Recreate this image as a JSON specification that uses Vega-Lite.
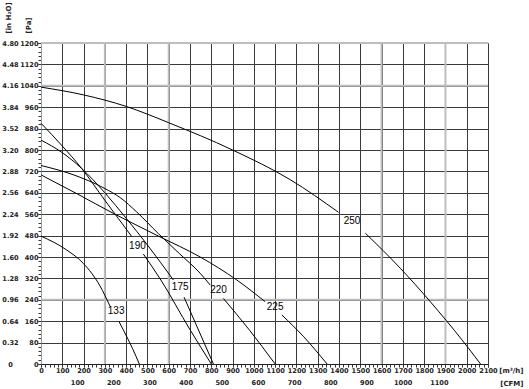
{
  "$schema": "https://vega.github.io/schema/vega-lite/v6.json",
  "width": 447,
  "height": 321,
  "autosize": {"type": "none"},
  "padding": {"left": 41, "top": 43, "right": 41, "bottom": 25},
  "background": "white",
  "config": {
    "view": {"stroke": null},
    "axis": {
      "labelFont": "DejaVu Sans",
      "labelFontWeight": "bold",
      "labelFontSize": 6.6,
      "labelColor": "#222",
      "labelOverlap": false,
      "labelFlush": false,
      "titleFont": "DejaVu Sans",
      "titleFontWeight": "bold",
      "titleFontSize": 7,
      "titleColor": "#222",
      "gridColor": "#3a3a3a",
      "gridOpacity": 1,
      "gridWidth": 1,
      "tickColor": "#333",
      "domainColor": "#222"
    }
  },
  "datasets": {
    "curves": [
      {"fan": "133", "seg": "133a", "q": 0, "p": 478},
      {"fan": "133", "seg": "133a", "q": 121, "p": 426},
      {"fan": "133", "seg": "133a", "q": 199, "p": 376},
      {"fan": "133", "seg": "133a", "q": 277, "p": 292},
      {"fan": "133", "seg": "133a", "q": 325, "p": 215},
      {"fan": "133", "seg": "133b", "q": 367, "p": 158},
      {"fan": "133", "seg": "133b", "q": 387, "p": 127},
      {"fan": "133", "seg": "133b", "q": 430, "p": 58},
      {"fan": "133", "seg": "133b", "q": 462, "p": 0},
      {"fan": "190", "seg": "190a", "q": 0, "p": 900},
      {"fan": "190", "seg": "190a", "q": 100, "p": 815},
      {"fan": "190", "seg": "190a", "q": 191, "p": 731},
      {"fan": "190", "seg": "190a", "q": 300, "p": 612},
      {"fan": "190", "seg": "190a", "q": 427, "p": 476},
      {"fan": "190", "seg": "190b", "q": 481, "p": 411},
      {"fan": "190", "seg": "190b", "q": 560, "p": 318},
      {"fan": "190", "seg": "190b", "q": 701, "p": 127},
      {"fan": "190", "seg": "190b", "q": 800, "p": 0},
      {"fan": "175", "seg": "175a", "q": 0, "p": 837},
      {"fan": "175", "seg": "175a", "q": 100, "p": 790},
      {"fan": "175", "seg": "175a", "q": 191, "p": 731},
      {"fan": "175", "seg": "175a", "q": 300, "p": 640},
      {"fan": "175", "seg": "175a", "q": 400, "p": 545},
      {"fan": "175", "seg": "175a", "q": 500, "p": 445},
      {"fan": "175", "seg": "175a", "q": 622, "p": 314},
      {"fan": "175", "seg": "175b", "q": 672, "p": 250},
      {"fan": "175", "seg": "175b", "q": 740, "p": 127},
      {"fan": "175", "seg": "175b", "q": 810, "p": 0},
      {"fan": "220", "seg": "220a", "q": 0, "p": 742},
      {"fan": "220", "seg": "220a", "q": 150, "p": 708},
      {"fan": "220", "seg": "220a", "q": 300, "p": 656},
      {"fan": "220", "seg": "220a", "q": 372, "p": 622},
      {"fan": "220", "seg": "220a", "q": 450, "p": 568},
      {"fan": "220", "seg": "220a", "q": 552, "p": 487},
      {"fan": "220", "seg": "220a", "q": 650, "p": 413},
      {"fan": "220", "seg": "220a", "q": 748, "p": 339},
      {"fan": "220", "seg": "220a", "q": 795, "p": 295},
      {"fan": "220", "seg": "220b", "q": 857, "p": 245},
      {"fan": "220", "seg": "220b", "q": 980, "p": 126},
      {"fan": "220", "seg": "220b", "q": 1100, "p": 0},
      {"fan": "225", "seg": "225a", "q": 0, "p": 707},
      {"fan": "225", "seg": "225a", "q": 170, "p": 636},
      {"fan": "225", "seg": "225a", "q": 340, "p": 563},
      {"fan": "225", "seg": "225a", "q": 552, "p": 478},
      {"fan": "225", "seg": "225a", "q": 748, "p": 400},
      {"fan": "225", "seg": "225a", "q": 920, "p": 314},
      {"fan": "225", "seg": "225a", "q": 1053, "p": 233},
      {"fan": "225", "seg": "225b", "q": 1132, "p": 183},
      {"fan": "225", "seg": "225b", "q": 1234, "p": 102},
      {"fan": "225", "seg": "225b", "q": 1344, "p": 0},
      {"fan": "250", "seg": "250a", "q": 0, "p": 1035},
      {"fan": "250", "seg": "250a", "q": 200, "p": 1006},
      {"fan": "250", "seg": "250a", "q": 400, "p": 963},
      {"fan": "250", "seg": "250a", "q": 600, "p": 902},
      {"fan": "250", "seg": "250a", "q": 900, "p": 800},
      {"fan": "250", "seg": "250a", "q": 1171, "p": 689},
      {"fan": "250", "seg": "250a", "q": 1398, "p": 567},
      {"fan": "250", "seg": "250b", "q": 1524, "p": 489},
      {"fan": "250", "seg": "250b", "q": 1688, "p": 358},
      {"fan": "250", "seg": "250b", "q": 1830, "p": 232},
      {"fan": "250", "seg": "250b", "q": 1978, "p": 90},
      {"fan": "250", "seg": "250b", "q": 2065, "p": 0}
    ],
    "labels": [
      {"fan": "133", "q": 353, "p": 198},
      {"fan": "190", "q": 453, "p": 441},
      {"fan": "175", "q": 654, "p": 288},
      {"fan": "220", "q": 834, "p": 277},
      {"fan": "225", "q": 1100, "p": 212},
      {"fan": "250", "q": 1461, "p": 536}
    ],
    "vlines": [{"q": 300}, {"q": 600}, {"q": 1600}, {"q": 1900}],
    "hlines": [{"p": 1200}, {"p": 1040}, {"p": 240}]
  },
  "resolve": {"axis": {"x": "independent", "y": "independent"}},
  "layer": [
    {
      "data": {"name": "vlines"},
      "mark": {"type": "rule", "color": "#bdbdbd", "strokeWidth": 2},
      "encoding": {
        "x": {
          "field": "q", "type": "quantitative",
          "scale": {"domain": [0, 2100], "nice": false, "zero": false},
          "axis": {
            "orient": "bottom", "title": null, "labels": false, "grid": false, "domain": false,
            "ticks": true, "tickSize": 3,
            "values": [0,20,40,60,80,100,120,140,160,180,200,220,240,260,280,300,320,340,360,380,400,420,440,460,480,500,520,540,560,580,600,620,640,660,680,700,720,740,760,780,800,820,840,860,880,900,920,940,960,980,1000,1020,1040,1060,1080,1100,1120,1140,1160,1180,1200,1220,1240,1260,1280,1300,1320,1340,1360,1380,1400,1420,1440,1460,1480,1500,1520,1540,1560,1580,1600,1620,1640,1660,1680,1700,1720,1740,1760,1780,1800,1820,1840,1860,1880,1900,1920,1940,1960,1980,2000,2020,2040,2060,2080,2100]
          }
        }
      }
    },
    {
      "data": {"name": "hlines"},
      "mark": {"type": "rule", "color": "#bdbdbd", "strokeWidth": 2},
      "encoding": {
        "y": {
          "field": "p", "type": "quantitative",
          "scale": {"domain": [0, 1200], "nice": false, "zero": false},
          "axis": {
            "orient": "left", "title": null, "labels": false, "grid": false,
            "domain": true, "domainColor": "#9a9a9a",
            "ticks": true, "tickSize": 3,
            "values": [0,16,32,48,64,80,96,112,128,144,160,176,192,208,224,240,256,272,288,304,320,336,352,368,384,400,416,432,448,464,480,496,512,528,544,560,576,592,608,624,640,656,672,688,704,720,736,752,768,784,800,816,832,848,864,880,896,912,928,944,960,976,992,1008,1024,1040,1056,1072,1088,1104,1120,1136,1152,1168,1184,1200]
          }
        }
      }
    },
    {
      "data": {"name": "curves"},
      "mark": {"type": "line", "interpolate": "monotone", "color": "black", "strokeWidth": 1},
      "encoding": {
        "x": {
          "field": "q", "type": "quantitative",
          "scale": {"domain": [0, 2100], "nice": false, "zero": false},
          "axis": {
            "orient": "bottom", "title": "[m³/h]", "grid": true, "domain": true,
            "ticks": true, "tickSize": 3, "labelPadding": 0, "format": "d",
            "values": [0,100,200,300,400,500,600,700,800,900,1000,1100,1200,1300,1400,1500,1600,1700,1800,1900,2000,2100],
            "titleX": 482, "titleY": 6, "titleAlign": "right", "titleBaseline": "middle", "titleAngle": 0
          }
        },
        "y": {
          "field": "p", "type": "quantitative",
          "scale": {"domain": [0, 1200], "nice": false, "zero": false},
          "axis": {
            "orient": "left", "title": "[Pa]", "grid": true, "domain": false,
            "ticks": true, "tickSize": 3, "labelPadding": 0, "format": "d",
            "values": [0,80,160,240,320,400,480,560,640,720,800,880,960,1040,1120,1200],
            "titleX": -13, "titleY": -10, "titleAlign": "left", "titleBaseline": "middle", "titleAngle": -90
          }
        },
        "detail": {"field": "seg"}
      }
    },
    {
      "data": {"name": "labels"},
      "mark": {"type": "text", "font": "Liberation Sans", "fontSize": 10, "color": "black", "align": "center", "baseline": "middle"},
      "encoding": {
        "x": {
          "field": "q", "type": "quantitative",
          "scale": {"domain": [0, 2100], "nice": false, "zero": false},
          "axis": {
            "orient": "bottom", "title": "[CFM]", "grid": false, "domain": false,
            "ticks": false, "tickSize": 0, "labelPadding": 1, "offset": 14,
            "values": [169.9,339.8,509.7,679.6,849.5,1019.4,1189.3,1359.2,1529.1,1699,1868.9],
            "labelExpr": "format(round(datum.value/1.699), 'd')",
            "titleX": 482, "titleY": 5, "titleAlign": "right", "titleBaseline": "middle", "titleAngle": 0
          }
        },
        "y": {
          "field": "p", "type": "quantitative",
          "scale": {"domain": [0, 1200], "nice": false, "zero": false},
          "axis": {
            "orient": "left", "title": "[in H₂O]", "grid": false, "domain": false,
            "ticks": false, "tickSize": 0, "labelPadding": 0, "offset": 31, "labelAlign": "center",
            "values": [0,80,160,240,320,400,480,560,640,720,800,880,960,1040,1120,1200],
            "labelExpr": "datum.value == 0 ? '0' : format(datum.value/250, '.2f')",
            "titleX": -2, "titleY": -10, "titleAlign": "left", "titleBaseline": "middle", "titleAngle": -90
          }
        },
        "text": {"field": "fan"}
      }
    }
  ]
}
